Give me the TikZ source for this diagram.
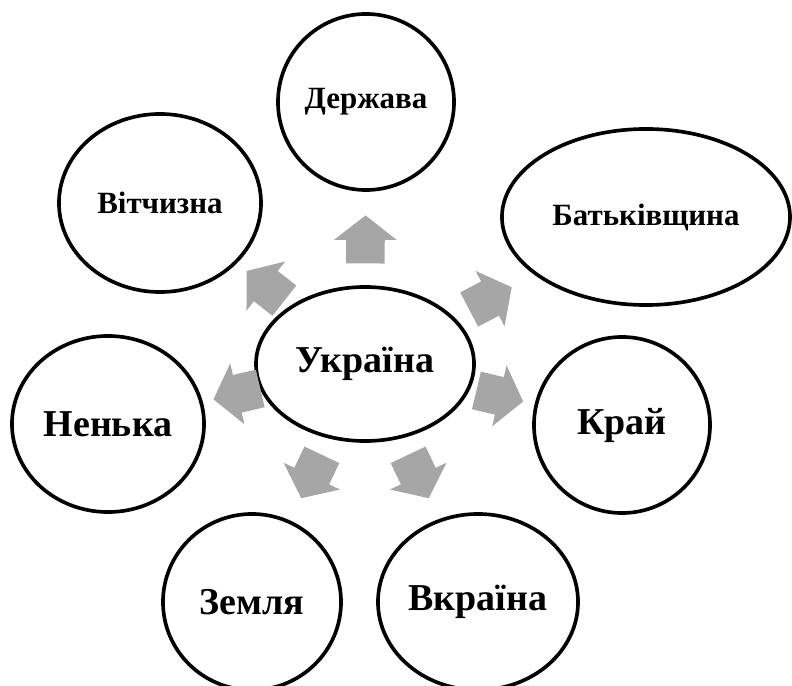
\documentclass[tikz,border=0pt]{standalone}
\usepackage{fontspec}
\setmainfont{Liberation Serif}
\usetikzlibrary{shapes.geometric, shapes.arrows, calc}
\definecolor{arrowgray}{RGB}{166,166,166}

\begin{document}
\begin{tikzpicture}[x=0.025cm, y=0.025cm,
  word/.style={draw, ellipse, line width=2.6pt, inner sep=0pt, font=\bfseries\fontsize{27}{32}\selectfont},
  smallword/.style={word, font=\bfseries\fontsize{22}{26}\selectfont},
  blockarrow/.style={single arrow, draw=none, fill=arrowgray, inner sep=0pt, text height=0.95cm, text depth=0pt, minimum height=1.2cm, single arrow head extend=0.3cm, single arrow tip angle=104}]
\useasboundingbox (0,0) rectangle (792,686);
% Draw centre
\node[word, minimum width=5.45cm, minimum height=3.85cm] (ua) at (365,322) {Україна};
% Draw outer words
\node[smallword, minimum width=4.4cm, minimum height=4.4cm] (der) at (366,584) {Держава};
\node[smallword, minimum width=5.05cm, minimum height=4.45cm] (vit) at (160,483) {Вітчизна};
\node[smallword, minimum width=7.2cm, minimum height=4.4cm] (bat) at (646,469) {Батьківщина};
\node[word, minimum width=4.8cm, minimum height=4.4cm] (nen) at (108,262) {Ненька};
\node[word, minimum width=4.4cm, minimum height=4.4cm] (kray) at (622,261) {Край};
\node[word, minimum width=4.45cm, minimum height=4.4cm] (zem) at (252,84) {Земля};
\node[word, minimum width=5cm, minimum height=4.4cm] (vkr) at (478,84) {Вкраїна};
% Draw arrows
\foreach \target/\dist in {der/2.925cm, vit/2.975cm, bat/3.35cm, kray/3.275cm, vkr/2.925cm, zem/2.925cm, nen/3.1cm}
  \path let \p1=($(\target)-(ua)$), \n1={atan2(\y1,\x1)} in
    node[blockarrow, rotate=\n1] (arr-\target) at ($(ua)!\dist!(\target)$) {};
\end{tikzpicture}
\end{document}
